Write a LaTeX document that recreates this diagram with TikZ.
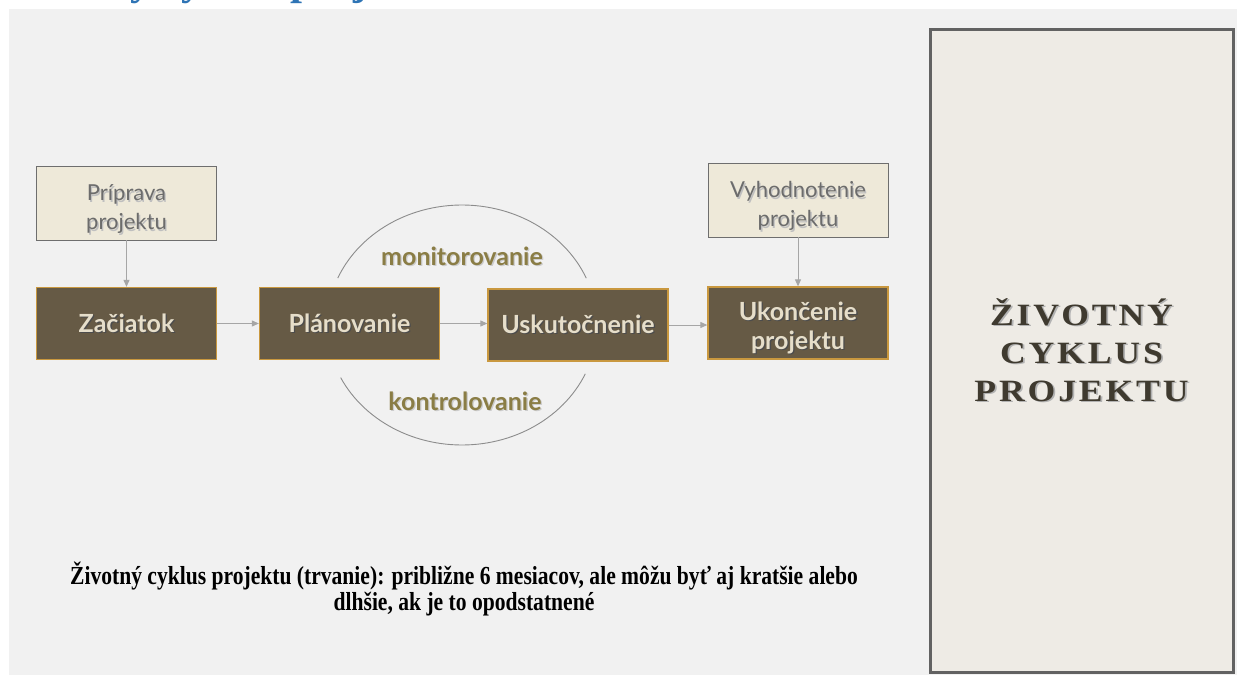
\documentclass[tikz,border=0pt]{standalone}
\usepackage{fontspec}
\setmainfont{Lato}
\newfontfamily\timesf{Liberation Serif}
\usetikzlibrary{arrows.meta}
\definecolor{pagegray}{HTML}{F1F1F1}
\definecolor{panelfill}{HTML}{EEEBE5}
\definecolor{panelline}{HTML}{626262}
\definecolor{beigefill}{HTML}{EEE9D9}
\definecolor{beigeline}{HTML}{6E6E6E}
\definecolor{darkfill}{HTML}{665A45}
\definecolor{darkline}{HTML}{C9983F}
\definecolor{creamtext}{HTML}{E6DECA}
\definecolor{graytext}{HTML}{6C6C6C}
\definecolor{olivetext}{HTML}{8A7D45}
\definecolor{arrowgray}{HTML}{A6A6A6}
\definecolor{arcgray}{HTML}{8C8C8C}
\definecolor{paneltext}{HTML}{3F3A2F}
\definecolor{titleblue}{HTML}{2E74B5}
\newcommand{\shd}[2]{\leavevmode\rlap{\kern1.3pt\raisebox{-1.3pt}{\textcolor{#1}{#2}}}#2}
\newcommand{\pshd}[1]{\scalebox{1.15}[1]{\rlap{\kern1.5pt\raisebox{-1.5pt}{\textcolor{black!30}{#1}}}#1}}
\newcommand{\lowstrut}{\rule{0pt}{30pt}}
\tikzset{
  darkbox/.style={draw=darkline, line width=1.3pt, fill=darkfill, minimum width=180pt, minimum height=72pt,
    inner sep=0pt, align=center, text=creamtext, font=\bfseries\fontsize{25}{29}\selectfont},
  beigebox/.style={draw=beigeline, line width=0.8pt, fill=beigefill, minimum width=180pt, minimum height=74pt,
    inner sep=0pt, align=center, text=graytext, font=\fontsize{22}{29}\selectfont},
  flow/.style={draw=arrowgray, line width=1pt, -{Triangle[length=7pt,width=6pt]}},
  arcline/.style={draw=arcgray, line width=0.9pt},
  arclabel/.style={inner sep=0pt, text=olivetext, font=\bfseries\fontsize{25}{25}\selectfont}
}
\begin{document}
\begin{tikzpicture}[x=1pt,y=-1pt]
\useasboundingbox (0,0) rectangle (1237,675);
\fill[white] (0,0) rectangle (1237,675);
\fill[pagegray] (9,9) rectangle (1237,675);
% cut-off title at the very top
\begin{scope}
\clip (0,0) rectangle (1237,9);
\node[anchor=base west, inner sep=0pt, text=titleblue, font=\timesf\bfseries\fontsize{43}{43}\selectfont] (title) at (8,-6) {Životný cyklus projektu};
\end{scope}
% right panel
\node[draw=panelline, line width=3pt, fill=panelfill, minimum width=303pt, minimum height=643pt, inner sep=0pt,
  align=center, text=paneltext, font=\timesf\bfseries\fontsize{31}{38}\selectfont\addfontfeature{LetterSpace=8}]
  (panel) at (1081.5,350.5) {\pshd{ŽIVOTNÝ}\\\pshd{CYKLUS}\\\pshd{PROJEKTU}};
% boxes
\node[beigebox] (prip) at (126.5,203) {\lowstrut\shd{black!25}{Príprava}\\\shd{black!25}{projektu}};
\node[beigebox] (vyh) at (798,200) {\lowstrut\shd{black!25}{Vyhodnotenie}\\\shd{black!25}{projektu}};
\node[darkbox] (zac) at (126.5,323.5) {\shd{black!70}{Začiatok}};
\node[darkbox] (plan) at (349.5,323.5) {\shd{black!70}{Plánovanie}};
\node[darkbox] (usk) at (578,325) {\shd{black!70}{Uskutočnenie}};
\node[darkbox] (ukon) at (798,323) {\lowstrut\shd{black!70}{Ukončenie}\\\shd{black!70}{projektu}};
% arcs
\draw[arcline] plot[domain=23:157, samples=60] ({462+135*cos(\x)},{325-120*sin(\x)});
\draw[arcline] plot[domain=206:336, samples=60] ({462+135*cos(\x)},{325-120*sin(\x)});
\node[arclabel] (mon) at (462,257) {\shd{black!20}{monitorovanie}};
\node[arclabel] (kon) at (465,402) {\shd{black!20}{kontrolovanie}};
% connectors
\draw[flow] (prip) -- (zac);
\draw[flow] (vyh) -- (ukon);
\draw[flow] (zac) -- (plan);
\draw[flow] (plan.east) -- (plan.east -| usk.west);
\draw[flow] (usk) -- (usk -| ukon.west);
% note
\node[align=center, inner sep=0pt, font=\timesf\bfseries\fontsize{26}{26}\selectfont] (note) at (464,589)
  {\scalebox{0.83}[1]{Životný cyklus projektu (trvanie): približne 6 mesiacov, ale môžu byť aj kratšie alebo}\\
   \scalebox{0.83}[1]{dlhšie, ak je to opodstatnené}};
\end{tikzpicture}
\end{document}
